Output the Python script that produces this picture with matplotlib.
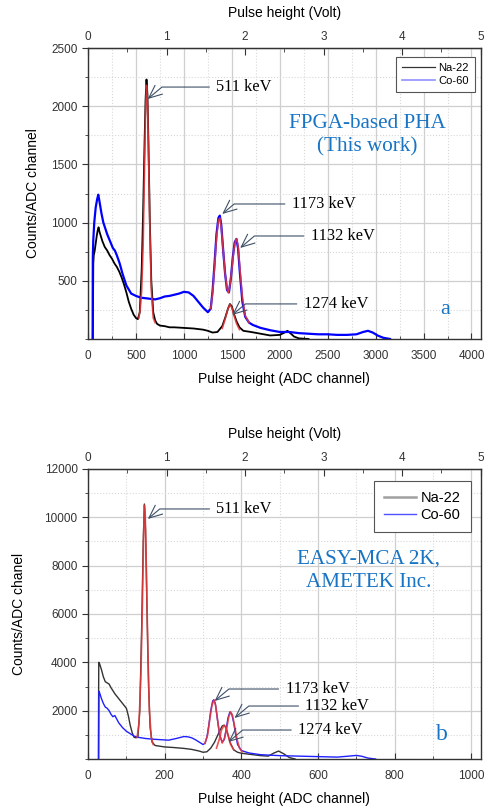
import matplotlib
matplotlib.use("Agg")
import matplotlib.pyplot as plt
from matplotlib.ticker import MultipleLocator, FuncFormatter, FixedLocator
from matplotlib.lines import Line2D

# ---------------- data ----------------
# Panel a: FPGA-based PHA (4096 channels)
a_na_ch = [50, 55, 60, 70, 80, 90, 100, 110, 120, 135, 150, 175, 200, 225, 250, 275, 300, 325, 350, 375,
           400, 425, 450, 475, 500, 520, 540, 560, 575, 590, 600, 610, 620, 630, 645, 660, 680, 700, 720, 750,
           800, 850, 900, 1000, 1100, 1200, 1250, 1300, 1350, 1400, 1430, 1460, 1480, 1500, 1520, 1550, 1580,
           1620, 1700, 1800, 1900, 2000, 2050, 2080, 2110, 2150, 2200, 2300]
a_na_ct = [0, 650, 720, 760, 820, 880, 930, 960, 920, 880, 840, 790, 760, 720, 690, 650, 620, 580, 530, 470,
           400, 320, 260, 210, 180, 170, 230, 600, 1100, 1700, 2050, 2230, 2100, 1700, 1000, 500, 230, 160, 130, 115,
           110, 100, 100, 95, 90, 80, 70, 55, 60, 110, 180, 260, 300, 280, 220, 150, 100,
           70, 60, 45, 30, 35, 55, 70, 50, 20, 5, 0]

a_co_ch = [48, 50, 55, 65, 80, 95, 107, 120, 140, 160, 180, 200, 230, 260, 280, 300, 330, 360, 400, 450,
           500, 550, 600, 650, 700, 750, 800, 850, 900, 950, 1000, 1050, 1100, 1150, 1200, 1250, 1280, 1300,
           1320, 1340, 1360, 1375, 1390, 1410, 1430, 1450, 1470, 1490, 1510, 1530, 1548, 1565, 1585, 1610,
           1640, 1680, 1720, 1800, 1900, 2000, 2100, 2200, 2300, 2400, 2500, 2600, 2700, 2800, 2870, 2920,
           2970, 3020, 3080, 3150]
a_co_ct = [0, 700, 850, 1000, 1130, 1200, 1240, 1180, 1080, 1000, 950, 900, 840, 780, 760, 720, 650, 560, 460, 390,
           370, 355, 350, 345, 340, 350, 365, 370, 380, 390, 405, 400, 370, 320, 270, 230, 260, 420,
           650, 900, 1040, 1060, 980, 760, 560, 420, 400, 520, 700, 830, 860, 780, 560, 320,
           190, 140, 120, 95, 75, 60, 60, 50, 45, 40, 40, 35, 35, 40, 60, 70,
           55, 30, 10, 0]

a_fit511_ch = [530, 545, 560, 575, 590, 600, 610, 620, 630, 645, 660, 680, 700]
a_fit511_ct = [180, 260, 420, 800, 1500, 1950, 2180, 2050, 1650, 950, 420, 180, 140]
a_fit1173_ch = [1280, 1300, 1320, 1340, 1360, 1375, 1390, 1410, 1430, 1450, 1465]
a_fit1173_ct = [260, 400, 620, 870, 1020, 1040, 960, 760, 560, 430, 400]
a_fit1332_ch = [1465, 1480, 1500, 1520, 1540, 1550, 1565, 1585, 1610, 1640, 1680]
a_fit1332_ct = [400, 460, 600, 760, 850, 860, 800, 600, 360, 200, 140]
a_fit1274_ch = [1400, 1430, 1460, 1480, 1500, 1520, 1550, 1580]
a_fit1274_ct = [90, 170, 260, 295, 270, 210, 130, 80]

# Panel b: EASY-MCA 2K (1024 channels)
b_na_ch = [27, 28, 30, 35, 40, 45, 50, 55, 60, 70, 80, 90, 100, 105, 110, 115, 120, 125, 130, 135, 140, 144,
           147, 150, 154, 158, 162, 167, 175, 200, 220, 250, 270, 290, 300, 310, 320, 330, 340, 350, 355, 360,
           365, 370, 380, 390, 400, 420, 450, 470, 485, 497, 510, 525, 540]
b_na_ct = [0, 4000, 3950, 3700, 3400, 3200, 3150, 3100, 2950, 2700, 2500, 2300, 2100, 1800, 1400, 1100, 900, 880,
           900, 2000, 5500, 9000, 10550, 9500, 6000, 3000, 1300, 700, 560, 500, 480, 440, 400, 330, 280, 300,
           450, 700, 1050, 1370, 1400, 1300, 1000, 700, 380, 280, 240, 200, 140, 120, 250, 330, 220, 60, 0]

b_co_ch = [28, 28.5, 30, 35, 40, 45, 50, 55, 60, 65, 70, 75, 80, 90, 100, 110, 120, 130, 150, 170, 190, 210,
           230, 250, 260, 270, 280, 290, 300, 305, 310, 315, 320, 325, 328, 332, 337, 343, 350, 355, 360, 365,
           370, 375, 380, 385, 390, 400, 420, 450, 500, 550, 600, 650, 680, 700, 715, 730, 750]
b_co_ct = [0, 2800, 2750, 2500, 2300, 2150, 2100, 2000, 1850, 1750, 1800, 1650, 1500, 1300, 1150, 1050, 950, 900,
           850, 820, 800, 780, 850, 930, 920, 880, 800, 700, 600, 650, 900, 1400, 2000, 2400, 2450, 2300,
           1700, 1000, 700, 800, 1200, 1700, 1950, 1850, 1500, 1000, 600, 350, 250, 180, 140, 120, 100, 80,
           120, 150, 110, 40, 0]

b_fit511_ch = [128, 133, 138, 142, 145, 147, 149, 152, 156, 160, 165, 170]
b_fit511_ct = [900, 1500, 3500, 6500, 9300, 10500, 10200, 8000, 4500, 2000, 900, 600]
b_fit1173_ch = [305, 312, 318, 323, 328, 333, 338, 344, 350]
b_fit1173_ct = [650, 1000, 1700, 2200, 2450, 2200, 1600, 950, 680]
b_fit1274_ch = [335, 342, 348, 355, 360, 366, 372, 380]
b_fit1274_ct = [450, 800, 1200, 1400, 1280, 950, 600, 380]
b_fit1332_ch = [350, 356, 362, 367, 372, 377, 383, 389, 395, 402]
b_fit1332_ct = [680, 850, 1300, 1750, 1950, 1800, 1300, 800, 450, 300]

volt_ticks = [0, 1, 2, 3, 4, 5]
volt_minor = [0.5, 1.5, 2.5, 3.5, 4.5]

peak_labels = ["511 keV", "1173 keV", "1132 keV", "1274 keV"]
# (tip, text) positions in data coords
a_ann = [((622, 2062), (1338, 2165)), ((1400, 1074), (2126, 1160)),
         ((1587, 782), (2323, 885)), ((1504, 206), (2250, 301))]
b_ann = [((156, 9931), (335, 10345)), ((330, 2400), (515, 2897)),
         ((382, 1697), (567, 2193)), ((366, 703), (548, 1200))]

legend_labels = ["Na-22", "Co-60"]

# ---------------- plotting ----------------
SANS = ["Liberation Sans", "DejaVu Sans"]
SERIF = ["Liberation Serif", "DejaVu Serif"]
plt.rcParams['font.family'] = SANS

fig = plt.figure(figsize=(4.89, 8.08), dpi=100)
ax1 = fig.add_axes([0.180, 0.5805, 0.803, 0.360])
ax2 = fig.add_axes([0.180, 0.0606, 0.803, 0.359])

red = '#e8383a'
arrow_col = '#3e5068'
text_blue = '#1874c4'


def style_axes(ax, xmax, xticks, xmin, ymax, yticks, ymin, nch, ylabel, ylabelpad):
    ax.set_xlim(0, xmax)
    ax.set_ylim(0, ymax)
    ax.xaxis.set_major_locator(FixedLocator(xticks))
    ax.xaxis.set_minor_locator(MultipleLocator(xmin))
    ax.yaxis.set_major_locator(FixedLocator(yticks))
    ax.yaxis.set_minor_locator(MultipleLocator(ymin))
    ax.yaxis.set_major_formatter(FuncFormatter(lambda v, p: '' if v == 0 else '%d' % v))
    ax.grid(which='major', color='#cfcfcf', lw=0.9)
    ax.grid(which='minor', color='#d8d8d8', lw=0.8, ls=':')
    ax.set_axisbelow(True)
    for s in ax.spines.values():
        s.set_color('#333333')
        s.set_linewidth(1.0)
    ax.tick_params(axis='y', which='major', direction='out', length=4, labelsize=8.5, colors='#333333')
    ax.tick_params(axis='y', which='minor', direction='out', length=2.5, colors='#333333')
    ax.tick_params(axis='x', which='major', direction='in', length=4, pad=8, labelsize=8.5, colors='#333333')
    ax.tick_params(axis='x', which='minor', direction='in', length=2.5, colors='#333333')
    ax.set_xlabel('Pulse height (ADC channel)', fontsize=10, labelpad=7)
    ax.set_ylabel(ylabel, fontsize=10, labelpad=ylabelpad)
    f = 5.0 / nch
    sec = ax.secondary_xaxis('top', functions=(lambda x: x * f, lambda v: v / f))
    sec.xaxis.set_major_locator(FixedLocator(volt_ticks))
    sec.xaxis.set_minor_locator(FixedLocator(volt_minor))
    sec.tick_params(which='major', direction='in', length=5, labelsize=8.5, colors='#333333')
    sec.tick_params(which='minor', direction='in', length=3, colors='#333333')
    sec.set_xlabel('Pulse height (Volt)', fontsize=10, labelpad=10)
    sec.spines['top'].set_color('#333333')


style_axes(ax1, 4096, [0, 500, 1000, 1500, 2000, 2500, 3000, 3500, 4000], 250,
           2500, [500, 1000, 1500, 2000, 2500], 250, 4096, 'Counts/ADC channel', 8)
style_axes(ax2, 1024, [0, 200, 400, 600, 800, 1000], 100,
           12000, [2000, 4000, 6000, 8000, 10000, 12000], 1000, 1024, 'Counts/ADC chanel', 13)

# panel a
ax1.plot(a_na_ch, a_na_ct, color='black', lw=1.3, label=legend_labels[0])
ax1.plot(a_co_ch, a_co_ct, color='#0000ff', lw=1.6, label=legend_labels[1])
for xs, ys in [(a_fit511_ch, a_fit511_ct), (a_fit1173_ch, a_fit1173_ct),
               (a_fit1332_ch, a_fit1332_ct), (a_fit1274_ch, a_fit1274_ct)]:
    ax1.plot(xs, ys, color=red, lw=1.2, alpha=0.85)

# panel b
ax2.plot(b_na_ch, b_na_ct, color='#333333', lw=1.0, label=legend_labels[0])
ax2.plot(b_co_ch, b_co_ct, color='#2020ff', lw=1.0, label=legend_labels[1])
for xs, ys in [(b_fit511_ch, b_fit511_ct), (b_fit1173_ch, b_fit1173_ct),
               (b_fit1332_ch, b_fit1332_ct), (b_fit1274_ch, b_fit1274_ct)]:
    ax2.plot(xs, ys, color=red, lw=1.2, alpha=0.85)

# legends
h1 = [Line2D([], [], color='#333333', lw=0.9), Line2D([], [], color='#9090ff', lw=1.2)]
leg1 = ax1.legend(h1, legend_labels, loc='upper right', fontsize=8, fancybox=False, framealpha=1,
                  edgecolor='#555555', handlelength=3.0, borderpad=0.55, labelspacing=0.3,
                  handletextpad=0.3, bbox_to_anchor=(1.0, 0.99))
leg1.get_frame().set_linewidth(0.8)
h2 = [Line2D([], [], color='#a0a0a0', lw=1.8), Line2D([], [], color='#5050ff', lw=1.0)]
leg2 = ax2.legend(h2, legend_labels, loc='upper right', fontsize=10.5, fancybox=False, framealpha=1,
                  edgecolor='#555555', handlelength=2.2, borderpad=0.7, labelspacing=0.2,
                  handletextpad=0.3, bbox_to_anchor=(0.993, 0.985))
leg2.get_frame().set_linewidth(0.8)

# annotations
for ax, anns in [(ax1, a_ann), (ax2, b_ann)]:
    for lab, (tip, txt) in zip(peak_labels, anns):
        ax.annotate(lab, xy=tip, xytext=txt, textcoords='data', ha='left', va='center',
                    fontsize=11.8, family=SERIF, color='black',
                    arrowprops=dict(arrowstyle='->,head_length=0.8,head_width=0.35',
                                    connectionstyle='angle,angleA=0,angleB=40,rad=0',
                                    color=arrow_col, lw=0.8, shrinkA=3, shrinkB=0))

ax1.text(0.712, 0.70, 'FPGA-based PHA\n(This work)', transform=ax1.transAxes, ha='center', va='center',
         fontsize=15.2, family=SERIF, color=text_blue, linespacing=1.3)
ax1.text(0.91, 0.10, 'a', transform=ax1.transAxes, ha='center', va='center',
         fontsize=16, family=SERIF, color=text_blue)
ax2.text(0.714, 0.65, 'EASY-MCA 2K,\nAMETEK Inc.', transform=ax2.transAxes, ha='center', va='center',
         fontsize=15.2, family=SERIF, color=text_blue, linespacing=1.3)
ax2.text(0.90, 0.085, 'b', transform=ax2.transAxes, ha='center', va='center',
         fontsize=17, family=SERIF, color=text_blue)

fig.savefig('out.png', dpi=100)
